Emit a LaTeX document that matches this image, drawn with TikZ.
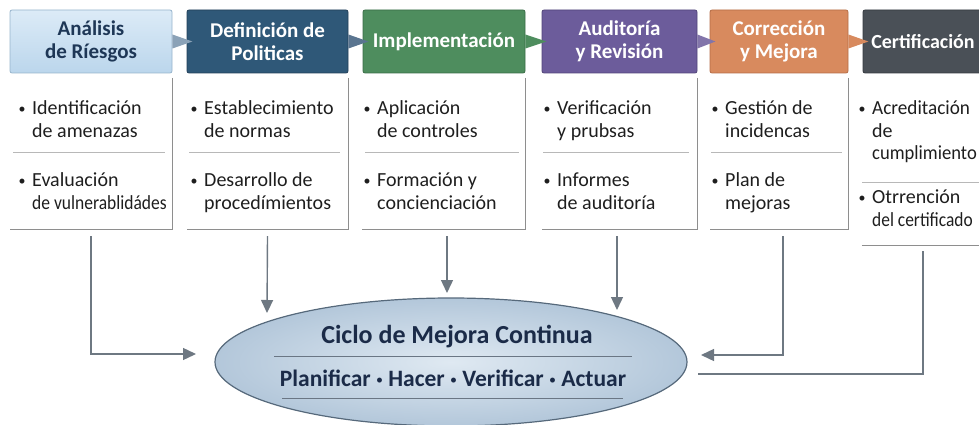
\documentclass[tikz,border=0pt]{standalone}
\usepackage{fontspec}
\usepackage{graphicx}
\setmainfont{Carlito}
\usetikzlibrary{shapes.geometric,arrows.meta}
\definecolor{hAtop}{HTML}{DCEBF7}\definecolor{hAbot}{HTML}{BBD6EC}\definecolor{hAbd}{HTML}{97B4CC}\definecolor{hAtx}{HTML}{1E3756}
\definecolor{hB}{HTML}{2F5878}\definecolor{hBbd}{HTML}{223F58}
\definecolor{hC}{HTML}{4E8D5E}\definecolor{hCbd}{HTML}{3A6C47}
\definecolor{hD}{HTML}{6C5C9B}\definecolor{hDbd}{HTML}{524579}
\definecolor{hE}{HTML}{D88A5E}\definecolor{hEbd}{HTML}{B56D46}
\definecolor{hF}{HTML}{4A5057}\definecolor{hFbd}{HTML}{353A40}
\definecolor{trA}{HTML}{8BA2B7}\definecolor{trB}{HTML}{5A7590}
\definecolor{bodytx}{HTML}{1E1E1E}
\definecolor{rulec}{HTML}{8E8E8E}\definecolor{divc}{HTML}{B8B8B8}
\definecolor{arrc}{HTML}{6E7882}
\definecolor{elin}{HTML}{DFE9F2}\definecolor{elout}{HTML}{B3C7DA}\definecolor{elbd}{HTML}{56697B}
\definecolor{eltx}{HTML}{1B2B48}\definecolor{ellc}{HTML}{6A7684}
\newcommand\smdot{\raisebox{1.6pt}{\fontsize{14}{14}\selectfont •}}
\newcommand\bul{\llap{\smdot\hspace{6.5pt}}}
\newcommand\sq[2][0.88]{\scalebox{#1}[1]{#2}}
\begin{document}
\begin{tikzpicture}[x=1pt,y=-1pt,
  hdr/.style={rectangle, rounded corners=2pt, minimum height=63pt, inner sep=0pt, align=center,
    font=\fontsize{21}{23}\selectfont\bfseries, text=white, line width=0.8pt},
  colbody/.style={rectangle, inner sep=0pt},
  body/.style={anchor=north west, align=left, inner sep=0pt, font=\fontsize{20}{22.5}\selectfont, text=bodytx},
  colrule/.style={draw=rulec, line width=1pt},
  divrule/.style={draw=divc, line width=0.8pt},
  arr/.style={draw=arrc, line width=1.4pt, -{Triangle[length=13pt,width=12pt]}},
  conn/.style={draw=arrc, line width=1.4pt},
  etext/.style={inner sep=0pt, text=eltx, font=\bfseries}]
\useasboundingbox (0,0) rectangle (979,425);

% header boxes
\node[hdr, minimum width=162pt, top color=hAtop, bottom color=hAbot, draw=hAbd, text=hAtx] (h1) at (91,41.5) {Análisis\\de Ríesgos};
\node[hdr, minimum width=161pt, fill=hB, draw=hBbd] (h2) at (267.5,41.5) {Definición de\\Politicas};
\node[hdr, minimum width=162pt, fill=hC, draw=hCbd] (h3) at (444,41.5) {Implementación};
\node[hdr, minimum width=155pt, fill=hD, draw=hDbd] (h4) at (619.5,41.5) {Auditoría\\y Revisión};
\node[hdr, minimum width=138pt, fill=hE, draw=hEbd] (h5) at (779,41.5) {Corrección\\y Mejora};
\node[hdr, minimum width=120pt, fill=hF, draw=hFbd, font=\fontsize{20}{23}\selectfont\bfseries] (h6) at (923,41.5) {Certificación};

% pointers between headers
\fill[trA] ([yshift=7pt]h1.east) -- ([xshift=20pt]h1.east) -- ([yshift=-7pt]h1.east) -- cycle;
\fill[trB] ([yshift=7pt]h2.east) -- ([xshift=20pt]h2.east) -- ([yshift=-7pt]h2.east) -- cycle;
\fill[hC] ([yshift=7pt]h3.east) -- ([xshift=21pt]h3.east) -- ([yshift=-7pt]h3.east) -- cycle;
\fill[hD!85!white] ([yshift=7pt]h4.east) -- ([xshift=18pt]h4.east) -- ([yshift=-7pt]h4.east) -- cycle;
\fill[hE] ([yshift=7pt]h5.east) -- ([xshift=20pt]h5.east) -- ([yshift=-7pt]h5.east) -- cycle;

% column bodies
\node[colbody, minimum width=162pt, minimum height=151pt] (c1) at (91,153.5) {};
\node[colbody, minimum width=161pt, minimum height=151pt] (c2) at (267.5,153.5) {};
\node[colbody, minimum width=163pt, minimum height=151pt] (c3) at (443.5,153.5) {};
\node[colbody, minimum width=155pt, minimum height=151pt] (c4) at (619.5,153.5) {};
\node[colbody, minimum width=138pt, minimum height=151pt] (c5) at (779,153.5) {};
\node[colbody, minimum width=122pt, minimum height=167pt] (c6) at (923,161.5) {};

\foreach \c in {c1,c2,c3,c4,c5}{
  \draw[colrule] (\c.north east) -- (\c.south east) -- (\c.south west);
}
\draw[colrule] (c6.south west) -- (c6.south east);

% dividers
\draw[divrule] (13,152) -- (165,152);
\draw[divrule] (189,152) -- (340,152);
\draw[divrule] (365,152) -- (519,152);
\draw[divrule] (543,152) -- (689,152);
\draw[divrule] (711,152) -- (842,152);
\draw[divrule] (862,182) -- (979,182);

% body texts
\node[body] (t1a) at (32,99) {\strut\bul Identificación\\de amenazas};
\node[body] (t1b) at (32,171) {\strut\bul Evaluación\\\sq[0.875]{de vulnerablidádes}};
\node[body] (t2a) at (204,99) {\strut\bul Establecimiento\\de normas};
\node[body] (t2b) at (204,171) {\strut\bul Desarrollo de\\procedímientos};
\node[body] (t3a) at (377,99) {\strut\bul Aplicación\\de controles};
\node[body] (t3b) at (377,171) {\strut\bul Formación y\\concienciación};
\node[body] (t4a) at (557,99) {\strut\bul Verificación\\y prubsas};
\node[body] (t4b) at (557,171) {\strut\bul Informes\\de auditoría};
\node[body] (t5a) at (725,99) {\strut\bul Gestión de\\incidencas};
\node[body] (t5b) at (725,171) {\strut\bul Plan de\\mejoras};
\node[body] (t6a) at (872,99) {\strut\bul \sq[0.96]{Acreditación}\\de\\\sq[0.93]{cumplimiento}};
\node[body] (t6b) at (872,188) {\strut\bul Otrrención\\\sq[0.87]{del certificado}};

% ellipse
\node[ellipse, minimum width=472pt, minimum height=128pt, inner sep=0pt, draw=elbd, line width=1.2pt,
  inner color=elin, outer color=elout] (e) at (451,362) {};
\node[etext, font=\fontsize{26}{28}\selectfont\bfseries] (e1) at (457,337) {Ciclo de Mejora Continua};
\node[etext, font=\fontsize{23.5}{26}\selectfont\bfseries] (e2) at (453,378) {Planificar {\normalfont\smdot} Hacer {\normalfont\smdot} Verificar {\normalfont\smdot} Actuar};
\draw[draw=ellc, line width=1pt] (274,356) -- (632,356);
\draw[draw=ellc, line width=1pt] (282,398) -- (623,398);

% connector end points
\coordinate (a1) at (196,354);
\coordinate (a2) at (267,313);
\coordinate (a3) at (447,293);
\coordinate (a4) at (617,310);
\coordinate (a5) at (701,355);
\coordinate (a6) at (698,374);

% connectors
\draw[arr] ([yshift=-7pt]c1.south) |- (a1);
\draw[arr] ([yshift=-7pt]c2.south) -- (a2);
\draw[arr] ([xshift=3.5pt,yshift=-7pt]c3.south) -- (a3);
\draw[arr] ([xshift=-2.5pt,yshift=-7pt]c4.south) -- (a4);
\draw[arr] ([xshift=4pt,yshift=-7pt]c5.south) |- (a5);
\draw[conn] ([yshift=-6pt]c6.south) |- (a6);
\end{tikzpicture}
\end{document}
